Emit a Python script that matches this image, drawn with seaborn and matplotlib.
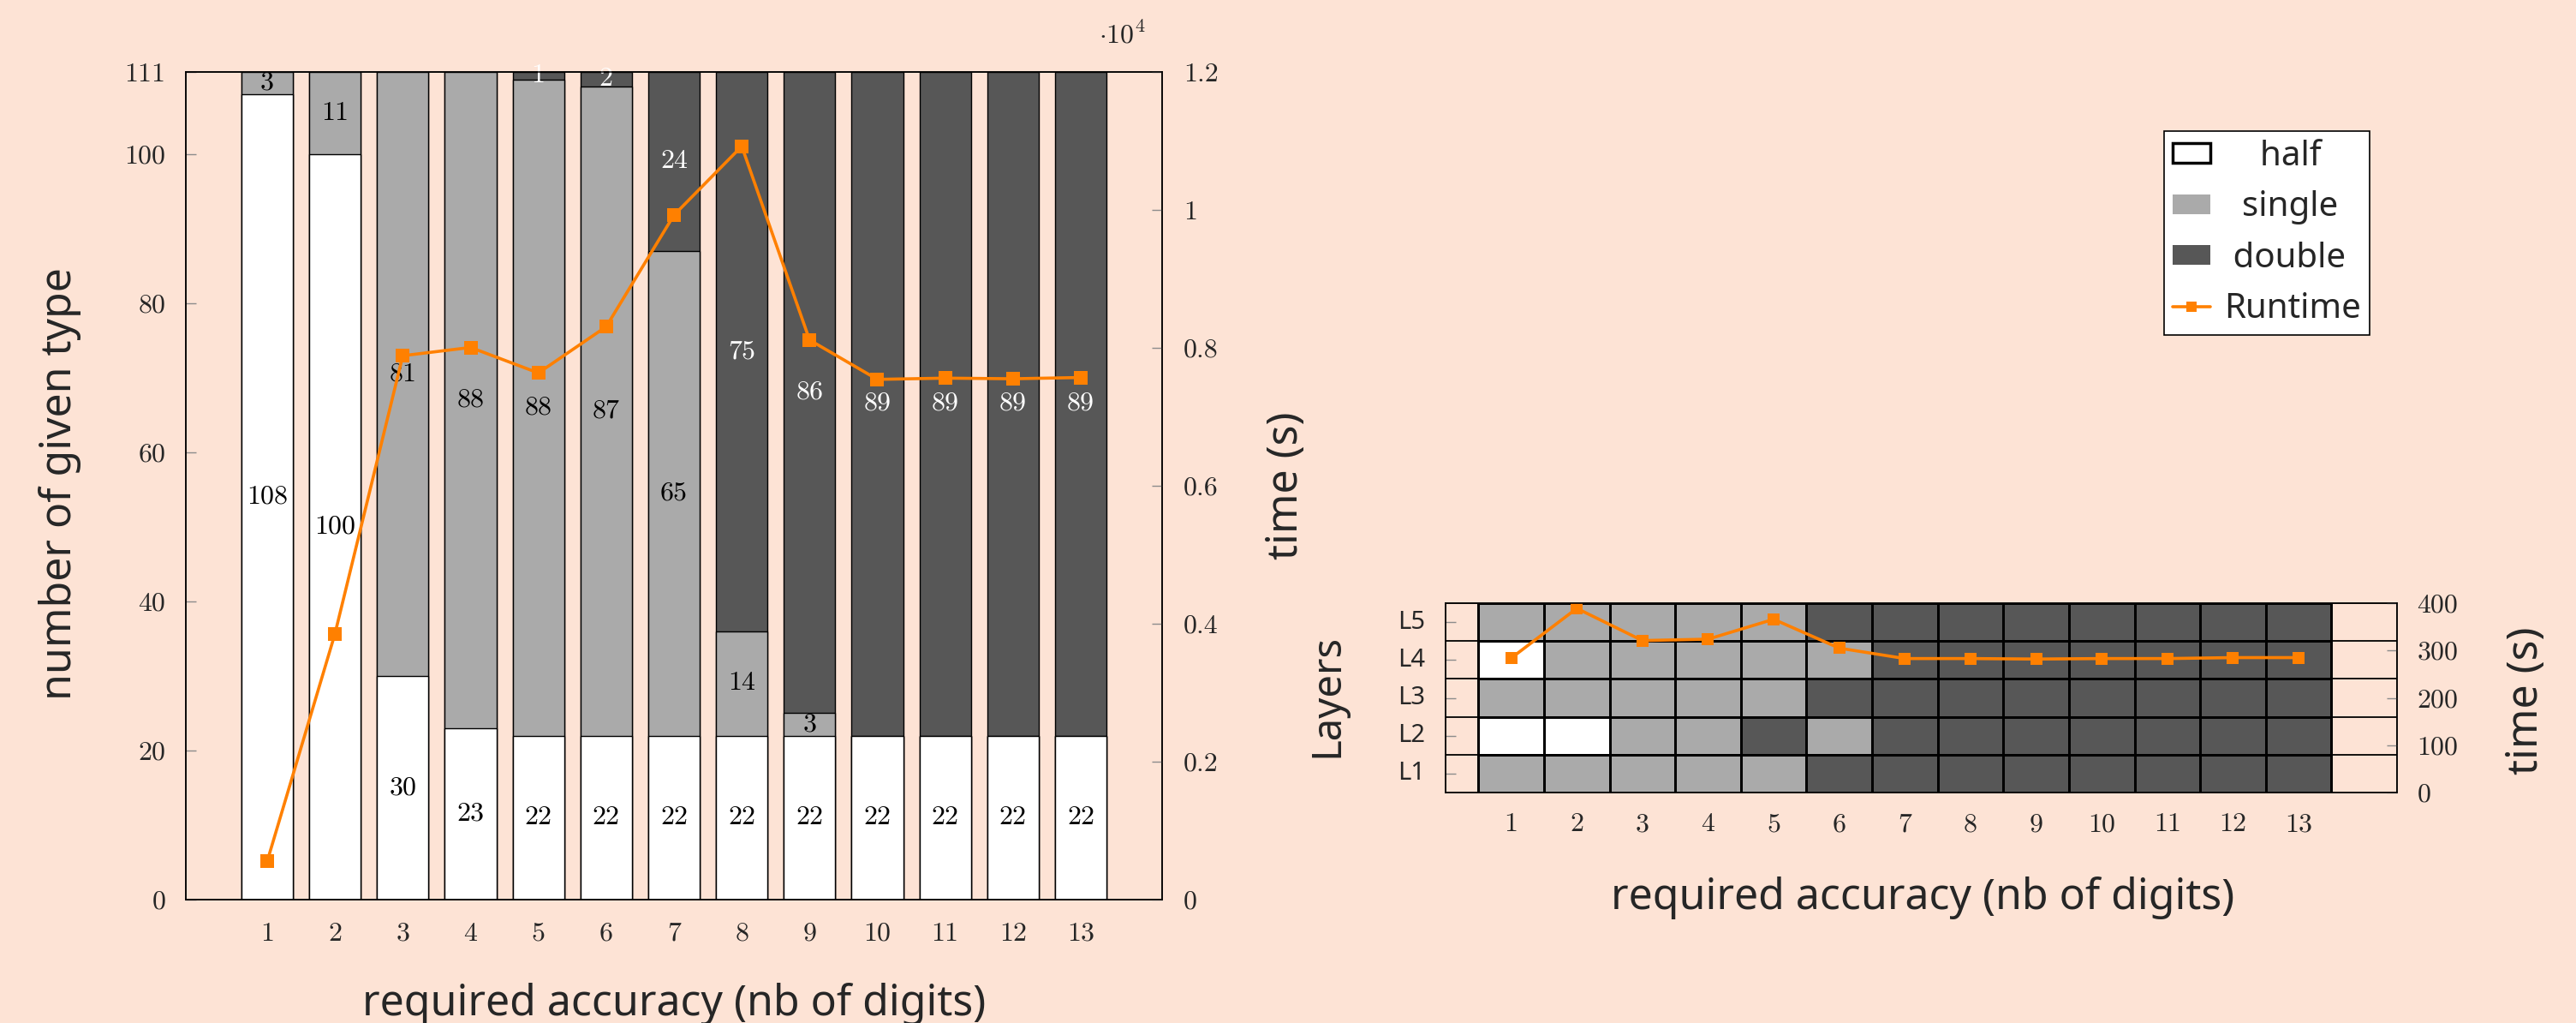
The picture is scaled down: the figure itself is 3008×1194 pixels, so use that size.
import numpy as np
import pandas as pd
import matplotlib.pyplot as plt
import seaborn as sns
from matplotlib.colors import ListedColormap
from matplotlib.patches import Patch
from matplotlib.lines import Line2D

# ------------------------------------------------------------
# DATA
# ------------------------------------------------------------
digits = list(range(1, 14))
n_half = [108, 100, 30, 23, 22, 22, 22, 22, 22, 22, 22, 22, 22]
n_single = [3, 11, 81, 88, 88, 87, 65, 14, 3, 0, 0, 0, 0]
n_double = [0, 0, 0, 0, 1, 2, 24, 75, 86, 89, 89, 89, 89]
runtime_all = [555, 3856, 7886, 8006, 7636, 8307, 9925, 10923, 8114, 7543, 7561, 7552, 7570]

layers = ["L1", "L2", "L3", "L4", "L5"]
# 0 = half, 1 = single, 2 = double
layer_L1 = [1, 1, 1, 1, 1, 2, 2, 2, 2, 2, 2, 2, 2]
layer_L2 = [0, 0, 1, 1, 2, 1, 2, 2, 2, 2, 2, 2, 2]
layer_L3 = [1, 1, 1, 1, 1, 2, 2, 2, 2, 2, 2, 2, 2]
layer_L4 = [0, 1, 1, 1, 1, 1, 2, 2, 2, 2, 2, 2, 2]
layer_L5 = [1, 1, 1, 1, 1, 2, 2, 2, 2, 2, 2, 2, 2]
runtime_layers = [284, 389, 321, 324, 366, 305, 283, 283, 282, 283, 283, 285, 285]

legend_labels = ["half", "single", "double", "Runtime"]

# ------------------------------------------------------------
# STYLE
# ------------------------------------------------------------
BG = "#fde3d5"
C_HALF = "#ffffff"
C_SINGLE = "#aaaaaa"
C_DOUBLE = "#575757"
ORANGE = "#ff8000"
TICK_GRAY = "#8c8c8c"
SERIF = "cmr10"

sns.set_style("ticks")
plt.rcParams["font.family"] = ["Noto Sans", "DejaVu Sans"]
plt.rcParams["mathtext.fontset"] = "cm"
plt.rcParams["axes.unicode_minus"] = False

W, H = 3008, 1194
fig = plt.figure(figsize=(W / 100, H / 100), dpi=100, facecolor=BG)


def fx(px):
    return px / W


def fy(py):
    return 1 - py / H


def style_frame(ax):
    ax.set_facecolor(BG)
    for s in ax.spines.values():
        s.set_visible(True)
        s.set_color("black")
        s.set_linewidth(1.1)


# ------------------------------------------------------------
# LEFT: stacked bars + runtime
# ------------------------------------------------------------
ax1 = fig.add_axes([fx(217), fy(1050), fx(1357) - fx(217), fy(84) - fy(1050)])
style_frame(ax1)

df = pd.DataFrame({"digits": digits, "half": n_half, "single": n_single, "double": n_double})
df["upto_single"] = df["half"] + df["single"]
df["total"] = df["upto_single"] + df["double"]

# stacked look: draw cumulative totals back to front
for col, color in [("total", C_DOUBLE), ("upto_single", C_SINGLE), ("half", C_HALF)]:
    sns.barplot(data=df, x="digits", y=col, color=color, native_scale=True,
                width=0.76, edgecolor="black", linewidth=1, saturation=1,
                errorbar=None, ax=ax1)

for i, d in enumerate(digits):
    segs = [(0, n_half[i], "black"),
            (n_half[i], n_single[i], "black"),
            (n_half[i] + n_single[i], n_double[i], "white")]
    for base, h, tc in segs:
        if h > 0:
            ax1.text(d, base + h / 2, str(h), ha="center", va="center",
                     color=tc, fontsize=23, fontfamily=SERIF)

ax1.set_xlim(-0.2, 14.2)
ax1.set_ylim(0, 111)
ax1.set_xlabel("")
ax1.set_ylabel("")
ax1.set_xticks(digits, [str(d) for d in digits], fontsize=23, fontfamily=SERIF)
yt = [0, 20, 40, 60, 80, 100, 111]
ax1.set_yticks(yt, [str(v) for v in yt], fontsize=23, fontfamily=SERIF)
ax1.tick_params(axis="y", direction="in", length=8.5, width=1, color=TICK_GRAY, pad=17)
ax1.tick_params(axis="x", length=0, pad=19)

ax1b = ax1.twinx()
sns.lineplot(x=digits, y=runtime_all, color=ORANGE, marker="s", markersize=11,
             markeredgewidth=0, linewidth=2.6, ax=ax1b)
ax1b.set_ylim(0, 12000)
rt = [0, 2000, 4000, 6000, 8000, 10000, 12000]
ax1b.set_yticks(rt, [f"{v / 1e4:g}" for v in rt], fontsize=23, fontfamily=SERIF)
ax1b.tick_params(axis="y", direction="in", length=8.5, width=1, color=TICK_GRAY, pad=18)
ax1b.set_ylabel("")
for s in ax1b.spines.values():
    s.set_color("black")
    s.set_linewidth(1.1)

fig.text(fx(1310), fy(42), r"$\cdot 10^{4}$", fontsize=23, ha="center", va="center")
fig.text(fx(70), fy(565), "number of given type", rotation=90, fontsize=36,
         ha="center", va="center")
fig.text(fx(1502), fy(567), "time (s)", rotation=90, fontsize=36,
         ha="center", va="center")
fig.text(fx(787), fy(1172), "required accuracy (nb of digits)", fontsize=36,
         ha="center", va="center")

# ------------------------------------------------------------
# RIGHT: precision per layer + runtime
# ------------------------------------------------------------
grid = pd.DataFrame([layer_L5, layer_L4, layer_L3, layer_L2, layer_L1],
                    index=layers[::-1], columns=digits)

ax2 = fig.add_axes([fx(1688), fy(925), fx(2799) - fx(1688), fy(704) - fy(925)])
sns.heatmap(grid, cmap=ListedColormap([C_HALF, C_SINGLE, C_DOUBLE]), vmin=-0.5, vmax=2.5,
            cbar=False, linewidths=1, linecolor="black", ax=ax2)
style_frame(ax2)
for yb in range(1, len(layers)):
    ax2.axhline(yb, color="black", linewidth=1.3)
ax2.set_xlim(-0.5, 14)
ax2.set_ylim(5, 0)
ax2.set_xlabel("")
ax2.set_ylabel("")
ax2.set_xticks(np.arange(len(digits)) + 0.5, [str(d) for d in digits],
               fontsize=23, fontfamily=SERIF, rotation=0)
ax2.set_yticks(np.arange(len(layers)) + 0.5, list(grid.index), fontsize=21, rotation=0)
ax2.tick_params(axis="y", direction="in", length=8.5, width=1, color=TICK_GRAY, pad=17)
ax2.tick_params(axis="x", length=0, pad=17)

ax2b = ax2.twinx()
sns.lineplot(x=np.array(digits) - 0.5, y=runtime_layers, color=ORANGE, marker="s",
             markersize=10.5, markeredgewidth=0, linewidth=2.6, ax=ax2b)
ax2b.set_ylim(0, 400)
lt = [0, 100, 200, 300, 400]
ax2b.set_yticks(lt, [str(v) for v in lt], fontsize=23, fontfamily=SERIF)
ax2b.tick_params(axis="y", direction="in", length=8.5, width=1, color=TICK_GRAY, pad=17)
ax2b.set_ylabel("")
for s in ax2b.spines.values():
    s.set_color("black")
    s.set_linewidth(1.1)

fig.text(fx(1550), fy(812), "Layers", rotation=90, fontsize=34, ha="center", va="center")
fig.text(fx(2950), fy(818), "time (s)", rotation=90, fontsize=36, ha="center", va="center")
fig.text(fx(2245), fy(1048), "required accuracy (nb of digits)", fontsize=36,
         ha="center", va="center")

# ------------------------------------------------------------
# LEGEND (labels padded so they sit centred like the original)
# ------------------------------------------------------------
handles = [
    Patch(facecolor=C_HALF, edgecolor="black", linewidth=2.5),
    Patch(facecolor=C_SINGLE, edgecolor="none"),
    Patch(facecolor=C_DOUBLE, edgecolor="none"),
    Line2D([], [], color=ORANGE, marker="s", markersize=9, markeredgewidth=0, linewidth=2.6),
]
pads = ["    ", "  ", " ", ""]
leg = fig.legend(handles, [p + t for p, t in zip(pads, legend_labels)], loc="upper left",
                 bbox_to_anchor=(fx(2527), fy(153)), fontsize=29, frameon=True,
                 fancybox=False, framealpha=1, facecolor="white", edgecolor="black",
                 borderpad=0.25, handlelength=1.1, handleheight=0.5, handletextpad=0.4,
                 labelspacing=0.48, borderaxespad=0)
leg.get_frame().set_linewidth(1.2)

fig.savefig("out.png", dpi=100, facecolor=BG)
